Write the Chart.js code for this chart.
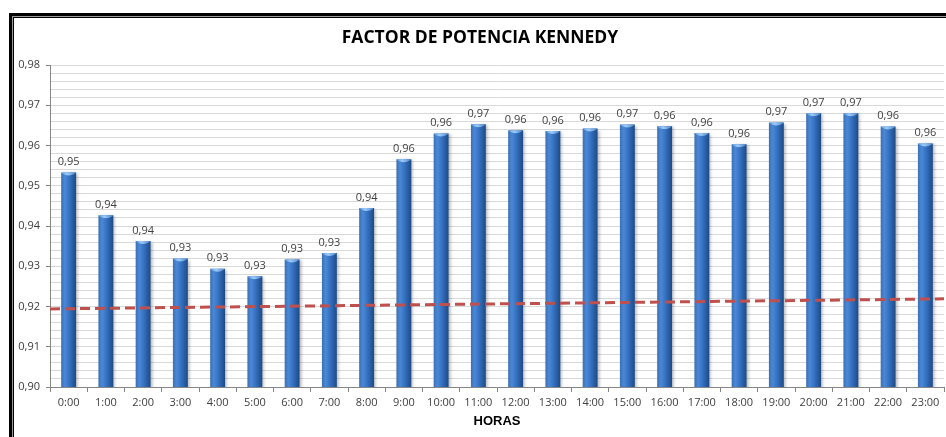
<!DOCTYPE html>
<html>
<head>
<meta charset="utf-8">
<script src="https://cdn.jsdelivr.net/npm/chart.js@4.4.0/dist/chart.umd.min.js"></script>
<style>
  html, body { margin: 0; padding: 0; background: #fff; overflow: hidden; }
  #wrap { position: relative; width: 946px; height: 437px; }
  #frame { position: absolute; left: 9px; top: 13px; width: 980px; height: 480px; border: 3px solid #000;
    box-shadow: inset 0 0 0 1px #9a9a9a, inset 0 0 0 2px #000; box-sizing: border-box; pointer-events: none; }
</style>
</head>
<body>
<div id="wrap">
  <canvas id="chart" width="946" height="437"></canvas>
  <div id="frame"></div>
</div>
<script>
const horas = ['0:00', '1:00', '2:00', '3:00', '4:00', '5:00', '6:00', '7:00', '8:00', '9:00', '10:00', '11:00',
  '12:00', '13:00', '14:00', '15:00', '16:00', '17:00', '18:00', '19:00', '20:00', '21:00', '22:00', '23:00'];
const factorPotencia = [0.9533, 0.9427, 0.9363, 0.9319, 0.9294, 0.9275, 0.9317, 0.9333, 0.9445, 0.9566, 0.9630, 0.9653,
  0.9638, 0.9636, 0.9642, 0.9652, 0.9648, 0.9631, 0.9603, 0.9657, 0.9680, 0.9680, 0.9647, 0.9605];
// linea de tendencia (extremos)
const tendenciaX = [-0.5, 23.5];
const tendenciaY = [0.9194, 0.9219];
const yMin = 0.90;
const yMax = 0.98;
const yStep = 0.002;

const fmt = (v) => v.toFixed(2).replace('.', ',');
const isMajor = (v) => Math.round(v * 1000) % 10 === 0;

const barExtras = {
  id: 'barExtras',
  beforeDatasetDraw(chart, args) {
    if (args.index !== 0) return;
    const ctx = chart.ctx;
    // degradado horizontal por barra (efecto cilindro)
    args.meta.data.forEach((bar) => {
      const w = bar.width;
      if (!isFinite(bar.x) || !isFinite(w)) return;
      const g = ctx.createLinearGradient(bar.x - w / 2, 0, bar.x + w / 2, 0);
      g.addColorStop(0, '#3a70b8');
      g.addColorStop(0.25, '#4a88d6');
      g.addColorStop(0.55, '#3571c0');
      g.addColorStop(1, '#1d4a86');
      bar.options = Object.assign({}, bar.options, { backgroundColor: g });
    });
    ctx.save();
    ctx.shadowColor = 'rgba(0,0,0,0.28)';
    ctx.shadowOffsetX = 2;
    ctx.shadowOffsetY = 1;
    ctx.shadowBlur = 3;
  },
  afterDatasetDraw(chart, args) {
    if (args.index !== 0) return;
    const ctx = chart.ctx;
    ctx.restore();
    ctx.save();
    args.meta.data.forEach((bar) => {
      const w = bar.width;
      const g = ctx.createLinearGradient(bar.x - w / 2, 0, bar.x + w / 2, 0);
      g.addColorStop(0, '#5f9de3');
      g.addColorStop(0.4, '#9ccaf6');
      g.addColorStop(1, '#4f86cc');
      ctx.fillStyle = g;
      ctx.beginPath();
      ctx.moveTo(bar.x - w / 2 + 1, bar.y + 1);
      ctx.quadraticCurveTo(bar.x, bar.y + 5, bar.x + w / 2 - 1, bar.y + 1);
      ctx.lineTo(bar.x + w / 2 - 1, bar.y);
      ctx.lineTo(bar.x - w / 2 + 1, bar.y);
      ctx.closePath();
      ctx.fill();
    });
    ctx.restore();
  },
  afterDatasetsDraw(chart) {
    const ctx = chart.ctx;
    const meta = chart.getDatasetMeta(0);
    ctx.save();
    ctx.font = '11px "Open Sans"';
    ctx.fillStyle = '#404040';
    ctx.textAlign = 'center';
    ctx.textBaseline = 'bottom';
    meta.data.forEach((bar, i) => {
      ctx.fillText(fmt(factorPotencia[i]), bar.x, bar.y - 5);
    });
    ctx.restore();
  }
};

new Chart(document.getElementById('chart'), {
  type: 'bar',
  data: {
    labels: horas,
    datasets: [
      {
        type: 'bar',
        label: 'Factor de potencia',
        data: factorPotencia,
        backgroundColor: '#3571c0',
        borderWidth: 0,
        grouped: false,
        barPercentage: 0.4,
        categoryPercentage: 1,
        order: 1
      },
      {
        type: 'line',
        label: 'Tendencia',
        data: tendenciaX.map((x, i) => ({ x: x, y: tendenciaY[i] })),
        xAxisID: 'xTrend',
        borderColor: '#c0504d',
        borderWidth: 3,
        borderDash: [10, 5],
        pointRadius: 0,
        fill: false,
        order: 0
      }
    ]
  },
  options: {
    responsive: false,
    animation: false,
    layout: { padding: { left: 16, right: 2, top: 16, bottom: 0 } },
    plugins: {
      legend: { display: false },
      tooltip: { enabled: false },
      title: {
        display: true,
        text: 'FACTOR DE POTENCIA KENNEDY',
        color: '#000',
        font: { family: 'Open Sans', size: 17.5, weight: 'bold' },
        padding: { top: 12, bottom: 16 }
      }
    },
    scales: {
      x: {
        offset: true,
        grid: { offset: true, drawOnChartArea: false, drawTicks: true, tickLength: 5, color: '#868686' },
        border: { color: '#868686' },
        ticks: { color: '#404040', font: { family: 'Open Sans', size: 11 }, padding: 4, maxRotation: 0, autoSkip: false },
        title: {
          display: true,
          text: 'HORAS',
          color: '#000',
          font: { family: 'Liberation Sans', size: 13, weight: 'bold' },
          padding: { top: 0, bottom: 8 }
        },
        afterFit: (s) => { s.height = 50; }
      },
      xTrend: { type: 'linear', min: -0.5, max: 23.5, offset: false, display: false },
      y: {
        min: yMin,
        max: yMax,
        ticks: {
          stepSize: yStep,
          autoSkip: false,
          color: '#404040',
          font: { family: 'Open Sans', size: 11 },
          padding: 6,
          callback: (v) => (isMajor(v) ? fmt(v) : '')
        },
        grid: {
          color: '#d9d9d9',
          tickLength: 4,
          tickColor: (c) => (c.tick && isMajor(c.tick.value) ? '#868686' : 'rgba(0,0,0,0)')
        },
        border: { color: '#868686' },
        afterFit: (s) => { s.width = 34; }
      }
    }
  },
  plugins: [barExtras]
});
</script>
</body>
</html>
